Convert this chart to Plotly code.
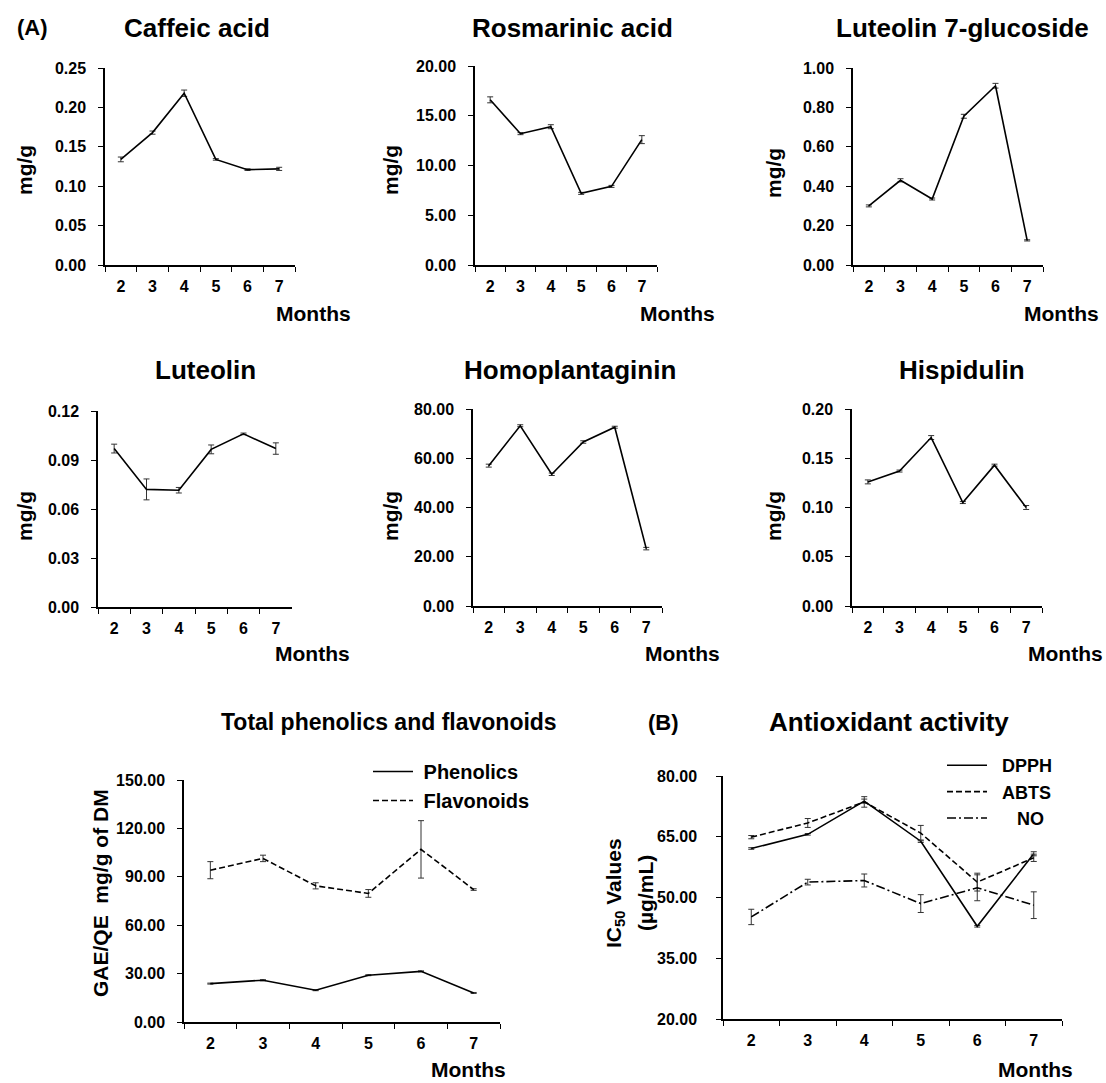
import plotly.graph_objects as go

W, H = 1106, 1083
FONT = "Liberation Sans"
NB = "\u00a0"

months = ["2", "3", "4", "5", "6", "7"]

caffeic = [0.134, 0.168, 0.218, 0.134, 0.121, 0.122]
caffeic_err = [0.003, 0.002, 0.004, 0.001, 0.001, 0.002]
rosmarinic = [16.6, 13.2, 13.9, 7.2, 7.9, 12.6]
rosmarinic_err = [0.3, 0.1, 0.2, 0.1, 0.1, 0.4]
lut7g = [0.30, 0.43, 0.335, 0.755, 0.91, 0.125]
lut7g_err = [0.005, 0.008, 0.005, 0.01, 0.012, 0.003]
luteolin = [0.097, 0.072, 0.0715, 0.0965, 0.106, 0.097]
luteolin_err = [0.0027, 0.0064, 0.0017, 0.0027, 0.0005, 0.0035]
homoplantaginin = [57.0, 73.2, 53.5, 66.6, 72.6, 23.3]
homoplantaginin_err = [0.6, 0.4, 0.5, 0.5, 0.4, 0.5]
hispidulin = [0.126, 0.137, 0.171, 0.105, 0.143, 0.100]
hispidulin_err = [0.002, 0.001, 0.002, 0.001, 0.001, 0.002]
phenolics = [23.8, 25.9, 19.7, 29.0, 31.4, 18.0]
phenolics_err = [0.3, 0.3, 0.3, 0.3, 0.3, 0.3]
flavonoids = [94.1, 101.4, 84.4, 79.7, 107.0, 82.1]
flavonoids_err = [5.3, 2.0, 1.9, 2.4, 17.8, 0.5]
dpph = [62.1, 65.6, 73.8, 63.9, 42.9, 60.8]
dpph_err = [0.2, 0.2, 0.5, 0.3, 0.2, 0.5]
abts = [64.9, 68.4, 73.6, 65.9, 53.8, 59.8]
abts_err = [0.4, 1.1, 1.3, 1.9, 2.2, 0.9]
no_vals = [45.2, 53.8, 54.2, 48.5, 52.4, 48.1]
no_err = [1.9, 0.7, 1.6, 2.2, 3.2, 3.3]

panels = [
    dict(px=(105, 295, 68, 265), yr=(0, 0.25), dt=0.05, title="Caffeic acid", tx=197, ty=28,
         yt="mg/g", ytx=24, yty=170, mx=313, my=313, fs=26),
    dict(px=(475, 657, 66, 265), yr=(0, 20), dt=5, title="Rosmarinic acid", tx=572, ty=28,
         yt="mg/g", ytx=390, yty=170, mx=677, my=313, fs=26),
    dict(px=(853, 1043, 68, 265), yr=(0, 1.0), dt=0.2, title="Luteolin 7-glucoside", tx=962, ty=28,
         yt="mg/g", ytx=773, yty=173, mx=1061, my=313, fs=26),
    dict(px=(98, 292, 411, 607), yr=(0, 0.12), dt=0.03, title="Luteolin", tx=205, ty=370,
         yt="mg/g", ytx=24, yty=516, mx=312, my=653, fs=26),
    dict(px=(473, 662, 409, 606), yr=(0, 80), dt=20, title="Homoplantaginin", tx=570, ty=370,
         yt="mg/g", ytx=390, yty=516, mx=682, my=653, fs=26),
    dict(px=(852, 1042, 409, 606), yr=(0, 0.2), dt=0.05, title="Hispidulin", tx=962, ty=370,
         yt="mg/g", ytx=773, yty=516, mx=1065, my=653, fs=26),
    dict(px=(184, 500, 780, 1022), yr=(0, 150), dt=30, title="Total phenolics and flavonoids", tx=389, ty=722,
         yt="GAE/QE  mg/g of DM", ytx=100, yty=893, mx=468, my=1069, fs=23),
    dict(px=(723, 1062, 776, 1019), yr=(20, 80), dt=15, title="Antioxidant activity", tx=889, ty=722,
         yt=None, ytx=0, yty=0, mx=1035, my=1069, fs=26),
]

DASH = "6px,3px"
DASHDOT = "9px,3px,2px,3px"
series = [
    [(caffeic, caffeic_err, "solid", None, None)],
    [(rosmarinic, rosmarinic_err, "solid", None, None)],
    [(lut7g, lut7g_err, "solid", None, None)],
    [(luteolin, luteolin_err, "solid", None, None)],
    [(homoplantaginin, homoplantaginin_err, "solid", None, None)],
    [(hispidulin, hispidulin_err, "solid", None, None)],
    [(phenolics, phenolics_err, "solid", NB + "Phenolics", "legend"),
     (flavonoids, flavonoids_err, DASH, NB + "Flavonoids", "legend")],
    [(dpph, dpph_err, "solid", NB * 2 + "DPPH", "legend2"),
     (abts, abts_err, DASH, NB * 2 + "ABTS", "legend2"),
     (no_vals, no_err, DASHDOT, NB * 5 + "NO", "legend2")],
]

fig = go.Figure()
layout = dict(width=W, height=H, autosize=False,
              margin=dict(l=0, r=0, t=0, b=0, pad=0, autoexpand=False),
              paper_bgcolor="white", plot_bgcolor="white",
              font=dict(family=FONT, color="black"), showlegend=True)
annotations = []

def ann(text, x, y, size, angle=0, xanchor="center"):
    annotations.append(dict(text=text, x=x / W, y=1 - y / H, xref="paper", yref="paper",
                            showarrow=False, textangle=angle, xanchor=xanchor, yanchor="middle",
                            font=dict(family=FONT, size=size, color="black", weight="bold")))

for i, (p, ser) in enumerate(zip(panels, series)):
    n = "" if i == 0 else str(i + 1)
    x0, x1, yt, yb = p["px"]
    standoff = 16 if i == 7 else 9
    layout["xaxis" + n] = dict(domain=[x0 / W, x1 / W], anchor="y" + n, type="category",
                               range=[-0.5, 5.5], tickson="boundaries", ticks="outside", ticklen=5,
                               tickcolor="black", showline=True, linecolor="black", linewidth=1.5,
                               showgrid=False, zeroline=False, ticklabelstandoff=6,
                               tickfont=dict(family=FONT, size=16, weight="bold"))
    layout["yaxis" + n] = dict(domain=[1 - yb / H, 1 - yt / H], anchor="x" + n, range=list(p["yr"]),
                               dtick=p["dt"], tick0=p["yr"][0], tickformat=".2f", ticks="outside",
                               ticklen=5, tickcolor="black", showline=True, linecolor="black",
                               linewidth=1.5, showgrid=False, zeroline=False,
                               ticklabelstandoff=standoff,
                               tickfont=dict(family=FONT, size=16, weight="bold"))
    for vals, errs, dash, name, leg in ser:
        fig.add_trace(go.Scatter(
            x=months, y=vals, mode="lines", xaxis="x" + n, yaxis="y" + n,
            line=dict(color="black", width=1.6, dash=dash),
            error_y=dict(type="data", array=errs, visible=True, color="#333333", thickness=1, width=3),
            name=name if name else "series", showlegend=name is not None,
            legend=leg if leg else "legend"))
    ann(p["title"], p["tx"], p["ty"], p["fs"])
    if p["yt"]:
        ann(p["yt"], p["ytx"], p["yty"], 21, angle=-90)
    ann("Months", p["mx"], p["my"], 21)

ann("(A)", 32, 28, 22)
ann("(B)", 663, 722, 22)
ann("IC<sub>50</sub> Values", 615, 893, 21, angle=-90)
ann("(µg/mL)", 645, 893, 21, angle=-90)

layout["annotations"] = annotations
layout["legend"] = dict(x=368 / W, y=1 - 752 / H, xanchor="left", yanchor="top",
                        bgcolor="rgba(0,0,0,0)", font=dict(family=FONT, size=20, weight="bold"),
                        itemwidth=40, tracegroupgap=0)
layout["legend2"] = dict(x=942 / W, y=1 - 747 / H, xanchor="left", yanchor="top",
                         bgcolor="rgba(0,0,0,0)", font=dict(family=FONT, size=18, weight="bold"),
                         itemwidth=40, tracegroupgap=0)
fig.update_layout(**layout)
fig.write_html("out.html", config={"displayModeBar": False},
               post_script="document.body.style.margin='0';document.body.style.padding='0';"
                           "document.body.style.overflow='hidden';")
